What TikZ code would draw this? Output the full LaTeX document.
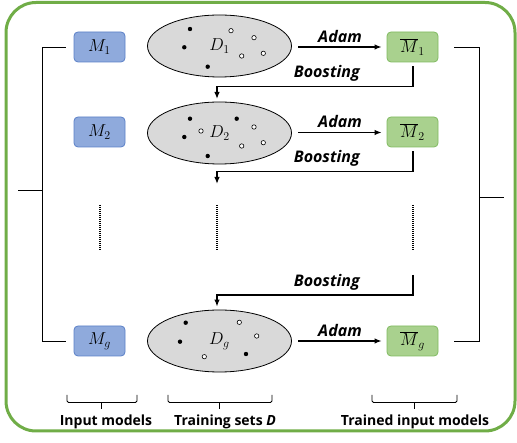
\documentclass[tikz,border=0pt]{standalone}
\usepackage{fontspec}
\setsansfont{Open Sans}
\usetikzlibrary{arrows.meta,shapes.geometric,calc}
\definecolor{framegreen}{RGB}{112,173,71}
\definecolor{bluefill}{RGB}{143,170,220}
\definecolor{bluedraw}{RGB}{90,128,200}
\definecolor{greenfill}{RGB}{169,209,142}
\definecolor{greendraw}{RGB}{128,186,96}
\definecolor{setgray}{RGB}{217,217,217}
\begin{document}
\begin{tikzpicture}[x=1pt,y=-1pt,
  inbox/.style={draw=bluedraw,fill=bluefill,rounded corners=4pt,minimum width=51pt,minimum height=30pt,inner sep=0pt,line width=0.8pt,font=\fontsize{18}{20}\selectfont},
  outbox/.style={draw=greendraw,fill=greenfill,rounded corners=4pt,minimum width=51pt,minimum height=30pt,inner sep=0pt,line width=0.8pt,font=\fontsize{18}{20}\selectfont},
  dset/.style={ellipse,draw,fill=setgray,minimum width=144pt,minimum height=62pt,inner sep=0pt,line width=0.8pt,font=\fontsize{18}{20}\selectfont},
  arr/.style={line width=1.3pt,-{Latex[length=7pt,width=5.5pt]}},
  lab/.style={font=\sffamily\bfseries\itshape\fontsize{16}{18}\selectfont,inner sep=0pt},
  botlab/.style={font=\sffamily\bfseries\fontsize{14}{16}\selectfont,inner sep=0pt},
  brk/.style={line width=0.9pt},
  dots/.style={line width=2pt,dash pattern=on 1pt off 1pt},
  brace/.style={line width=0.9pt,rounded corners=1.5pt}]
\useasboundingbox (0,0) rectangle (517,443);
\draw[framegreen,line width=3pt,rounded corners=30pt] (6,2.5) rectangle (515,431);

% input models
\node[inbox] (m1) at (99.5,47) {$M_1$};
\node[inbox] (m2) at (99.5,132) {$M_2$};
\node[inbox] (mg) at (99.5,341) {$M_g$};
% training sets
\node[dset] (d1) at (219.5,46) {$D_1$};
\node[dset] (d2) at (219.5,133) {$D_2$};
\node[dset] (dg) at (219.5,341) {$D_g$};
% trained models
\node[outbox] (t1) at (412.5,47) {$\overline{M}_1$};
\node[outbox] (t2) at (412.5,132) {$\overline{M}_2$};
\node[outbox] (tg) at (412.5,341) {$\overline{M}_g$};

% dots in D1
\foreach \p in {(190,29),(184.3,47.3),(207.7,66.7)} \fill \p circle (2.2pt);
\foreach \p in {(231,30.7),(254,37.7),(241.7,56),(263.3,53.3)} \draw[line width=0.6pt,fill=white] \p circle (2.2pt);
% dots in D2
\foreach \p in {(190,118.7),(236.7,118.7),(184.3,137),(207.7,156)} \fill \p circle (2.2pt);
\foreach \p in {(201,131),(254,127),(241.7,146),(263.3,142.7)} \draw[line width=0.6pt,fill=white] \p circle (2.2pt);
% dots in Dg
\foreach \p in {(185.7,322.7),(180,341.7),(246,354)} \fill \p circle (2.2pt);
\foreach \p in {(239.3,322.3),(256.7,336),(204.3,356.7)} \draw[line width=0.6pt,fill=white] \p circle (2.2pt);

% Adam arrows
\draw[arr] ($(d1.east)+(6.5,1)$) -- node[lab,above=4pt] (a1) {Adam} ($(t1.west)+(-5,0)$);
\draw[arr] ($(d2.east)+(6.5,-0.5)$) -- node[lab,above=4pt] (a2) {Adam} ($(t2.west)+(-5,0.5)$);
\draw[arr] ($(dg.east)+(6.5,0)$) -- node[lab,above=4pt] (a3) {Adam} ($(tg.west)+(-5,0)$);

% Boosting arrows
\coordinate (b1a) at ($(t1.south)+(0.5,4)$);
\coordinate (b1b) at ($(t1.south)+(0.5,24)$);
\coordinate (b1c) at (217,99);
\draw[arr] (b1a) -- (b1b) -| node[lab,pos=0.22,above=4pt] (bl1) {Boosting} (b1c);
\coordinate (b2a) at ($(t2.south)+(0.5,4)$);
\coordinate (b2b) at ($(t2.south)+(0.5,24)$);
\coordinate (b2c) at (217,184);
\draw[arr] (b2a) -- (b2b) -| node[lab,pos=0.22,above=4pt] (bl2) {Boosting} (b2c);
\coordinate (b3a) at (413,275);
\coordinate (b3b) at (413,295);
\draw[arr] (b3a) -- (b3b) -| node[lab,pos=0.22,above=4pt] (bl3) {Boosting} ($(dg.north)+(-2.5,-3)$);

% dotted continuation lines
\coordinate (v1a) at (100,205); \coordinate (v1b) at (100,250);
\coordinate (v2a) at (217,205); \coordinate (v2b) at (217,250);
\coordinate (v3a) at (413,205); \coordinate (v3b) at (413,250);
\draw[dots] (v1a) -- (v1b);
\draw[dots] (v2a) -- (v2b);
\draw[dots] (v3a) -- (v3b);

% left bracket
\coordinate (lx1) at (42,47); \coordinate (lx2) at (42,341);
\coordinate (ls1) at (18,190); \coordinate (ls2) at (42,190);
\draw[brk] ($(m1.west)+(-8,0)$) -- (lx1) -- (lx2) -- ($(mg.west)+(-8,0)$);
\draw[brk] (ls1) -- (ls2);
% right bracket
\coordinate (rx1) at (479,47); \coordinate (rx2) at (479,341);
\coordinate (rs1) at (479,197); \coordinate (rs2) at (504,197);
\draw[brk] ($(t1.east)+(16,0)$) -- (rx1) -- (rx2) -- ($(tg.east)+(16,0)$);
\draw[brk] (rs1) -- (rs2);

% bottom braces
\draw[brace] (67,395) -- (67,402.5) -- (137,402.5) -- (137,395);
\draw[brk] (101,402.5) -- (101,409);
\draw[brace] (168,395) -- (168,402.5) -- (272,402.5) -- (272,395);
\draw[brk] (219,402.5) -- (219,409);
\draw[brace] (372,395) -- (372,402.5) -- (457,402.5) -- (457,395);
\draw[brk] (414,402.5) -- (414,409);

\node[botlab] (l1) at (106,422) {Input models};
\node[botlab] (l2) at (225,422) {Training sets \textit{D}};
\node[botlab] (l3) at (415,422) {Trained input models};
\end{tikzpicture}
\end{document}
